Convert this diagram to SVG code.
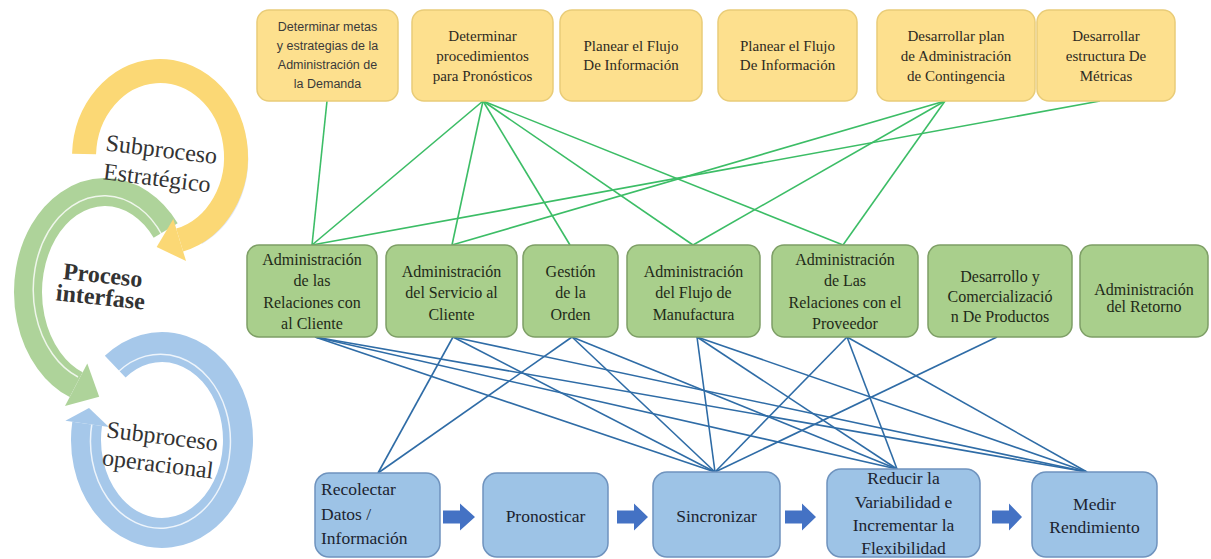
<svg xmlns="http://www.w3.org/2000/svg" width="1211" height="559" viewBox="0 0 1211 559">
  <defs>
    <style>
      .ybox { fill: #FDE08E; stroke: #E9CC78; stroke-width: 1.5; }
      .gbox { fill: #A9CF8C; stroke: #7E9F66; stroke-width: 1.5; }
      .bbox { fill: #9DC3E6; stroke: #6F93BE; stroke-width: 1.5; }
      .ys { font-family: 'Liberation Sans', Arial, sans-serif; font-size: 12.5px; text-anchor: middle; fill: #3a3a3a; }
      .yt { font-family: 'Liberation Serif', 'Times New Roman', serif; font-size: 15px; text-anchor: middle; fill: #2e2a22; }
      .gt { font-family: 'Liberation Serif', 'Times New Roman', serif; font-size: 16px; text-anchor: middle; fill: #1f2a18; }
      .bt { font-family: 'Liberation Serif', 'Times New Roman', serif; font-size: 17.5px; fill: #1c2430; }
      .ring { font-family: 'Liberation Serif', 'Times New Roman', serif; font-size: 24px; fill: #333333; text-anchor: middle; }
      .gl { stroke: #3CBD66; stroke-width: 1.6; fill: none; }
      .bl { stroke: #2F6CA6; stroke-width: 1.6; fill: none; }
      .flow { fill: #4472C4; }
    </style>
  </defs>

  <rect width="1211" height="559" fill="#ffffff"/>

  <!-- cycle graphic on the left -->
  <g id="cycle">
    <!-- operational ring (blue) -->
    <path d="M115.2,366.7 A76,93 0 1 1 87.15,423.85" fill="none" stroke="#A6C8EA" stroke-width="30"/>
    <path d="M118,372 A70,87 0 1 1 92,423" fill="none" stroke="#ffffff" stroke-width="1.5" opacity="0.8"/>
    <polygon points="108.9,427 65.4,420.7 89,408" fill="#A6C8EA"/>
    <!-- interface ring (green) -->
    <path d="M165.68,230.43 A77,100 0 1 0 76.16,384.72" fill="none" stroke="#AED39A" stroke-width="28"/>
    <path d="M162,235 A71,94 0 1 0 78,377" fill="none" stroke="#ffffff" stroke-width="1.5" opacity="0.8"/>
    <polygon points="65,406 87.3,363.5 99.2,396.8" fill="#AED39A"/>
    <!-- strategic ring (yellow) with soft lavender edge -->
    <path d="M120,80 A76,86 0 0 1 190,236" fill="none" stroke="#DFE6F6" stroke-width="16" transform="translate(8,1)"/>
    <path d="M84.05,154 A76,86 0 1 1 179.67,240.07" fill="none" stroke="#FBD875" stroke-width="24"/>
    <polygon points="186.05,261.1 173.3,219 156.7,247" fill="#FBD875"/>

    <text class="ring" transform="rotate(7 158 170)"><tspan x="159" y="157">Subproceso</tspan><tspan x="158" y="186">Estratégico</tspan></text>
    <text class="ring" font-weight="bold" transform="rotate(6 101 293)"><tspan x="101" y="283">Proceso</tspan><tspan x="101" y="305">interfase</tspan></text>
    <text class="ring" transform="rotate(7 160 455)"><tspan x="160" y="444">Subproceso</tspan><tspan x="159" y="472">operacional</tspan></text>
  </g>

  <!-- connectors -->
  <g id="connectors">
    <!-- strategic to interface -->
    <line class="gl" x1="327" y1="101" x2="312" y2="245"/>
    <line class="gl" x1="483" y1="101" x2="312" y2="245"/>
    <line class="gl" x1="483" y1="101" x2="452" y2="245"/>
    <line class="gl" x1="483" y1="101" x2="570" y2="245"/>
    <line class="gl" x1="483" y1="101" x2="693" y2="245"/>
    <line class="gl" x1="483" y1="101" x2="843" y2="245"/>
    <line class="gl" x1="945" y1="101" x2="452" y2="245"/>
    <line class="gl" x1="945" y1="101" x2="693" y2="245"/>
    <line class="gl" x1="945" y1="101" x2="843" y2="245"/>
    <line class="gl" x1="1100" y1="101" x2="312" y2="245"/>
    <!-- interface to operational -->
    <line class="bl" x1="315" y1="337" x2="715" y2="472"/>
    <line class="bl" x1="315" y1="337" x2="897" y2="469"/>
    <line class="bl" x1="315" y1="337" x2="1087" y2="472"/>
    <line class="bl" x1="453" y1="337" x2="378" y2="473"/>
    <line class="bl" x1="453" y1="337" x2="715" y2="472"/>
    <line class="bl" x1="453" y1="337" x2="1087" y2="472"/>
    <line class="bl" x1="572" y1="337" x2="378" y2="473"/>
    <line class="bl" x1="572" y1="337" x2="715" y2="472"/>
    <line class="bl" x1="572" y1="337" x2="897" y2="469"/>
    <line class="bl" x1="697" y1="337" x2="715" y2="472"/>
    <line class="bl" x1="697" y1="337" x2="897" y2="469"/>
    <line class="bl" x1="697" y1="337" x2="1087" y2="472"/>
    <line class="bl" x1="847" y1="337" x2="715" y2="472"/>
    <line class="bl" x1="847" y1="337" x2="897" y2="469"/>
    <line class="bl" x1="847" y1="337" x2="1087" y2="472"/>
    <line class="bl" x1="997" y1="337" x2="715" y2="472"/>
    <!-- process flow arrows -->
    <polygon class="flow" points="443,510.5 460,510.5 460,503.5 475,517 460,530.5 460,523.5 443,523.5"/>
    <polygon class="flow" points="617,510.5 634,510.5 634,503.5 648,517 634,530.5 634,523.5 617,523.5"/>
    <polygon class="flow" points="785,510.5 802,510.5 802,503.5 816,517 802,530.5 802,523.5 785,523.5"/>
    <polygon class="flow" points="992,510.5 1009,510.5 1009,503.5 1022,517 1009,530.5 1009,523.5 992,523.5"/>
  </g>

  <!-- strategic subprocess -->
  <g id="y1"><rect class="ybox" x="257" y="10" width="141" height="91" rx="12"/>
    <text class="ys"><tspan x="327.5" y="31">Determinar metas</tspan><tspan x="327.5" y="50">y estrategias de la</tspan><tspan x="327.5" y="69">Administración de</tspan><tspan x="327.5" y="88">la Demanda</tspan></text></g>
  <g id="y2"><rect class="ybox" x="412" y="10" width="141" height="91" rx="12"/>
    <text class="yt"><tspan x="482.5" y="41">Determinar</tspan><tspan x="482.5" y="61">procedimientos</tspan><tspan x="482.5" y="81">para Pronósticos</tspan></text></g>
  <g id="y3"><rect class="ybox" x="560" y="10" width="142" height="91" rx="12"/>
    <text class="yt"><tspan x="631" y="51">Planear el Flujo</tspan><tspan x="631" y="70">De Información</tspan></text></g>
  <g id="y4"><rect class="ybox" x="718" y="10" width="139" height="91" rx="12"/>
    <text class="yt"><tspan x="787.5" y="51">Planear el Flujo</tspan><tspan x="787.5" y="70">De Información</tspan></text></g>
  <g id="y5"><rect class="ybox" x="877" y="10" width="158" height="91" rx="12"/>
    <text class="yt"><tspan x="956" y="41">Desarrollar plan</tspan><tspan x="956" y="61">de Administración</tspan><tspan x="956" y="81">de Contingencia</tspan></text></g>
  <g id="y6"><rect class="ybox" x="1037" y="10" width="138" height="91" rx="12"/>
    <text class="yt"><tspan x="1106" y="41">Desarrollar</tspan><tspan x="1106" y="61">estructura De</tspan><tspan x="1106" y="81">Métricas</tspan></text></g>

  <!-- interface processes -->
  <g id="g1"><rect class="gbox" x="247" y="245" width="130" height="92" rx="12"/>
    <text class="gt"><tspan x="312" y="265">Administración</tspan><tspan x="312" y="286">de las</tspan><tspan x="312" y="308">Relaciones con</tspan><tspan x="312" y="329">al Cliente</tspan></text></g>
  <g id="g2"><rect class="gbox" x="386" y="245" width="131" height="92" rx="12"/>
    <text class="gt"><tspan x="451.5" y="277">Administración</tspan><tspan x="451.5" y="298">del Servicio al</tspan><tspan x="451.5" y="320">Cliente</tspan></text></g>
  <g id="g3"><rect class="gbox" x="523" y="245" width="95" height="92" rx="12"/>
    <text class="gt"><tspan x="570.5" y="277">Gestión</tspan><tspan x="570.5" y="298">de la</tspan><tspan x="570.5" y="320">Orden</tspan></text></g>
  <g id="g4"><rect class="gbox" x="627" y="245" width="133" height="92" rx="12"/>
    <text class="gt"><tspan x="693.5" y="277">Administración</tspan><tspan x="693.5" y="298">del Flujo de</tspan><tspan x="693.5" y="320">Manufactura</tspan></text></g>
  <g id="g5"><rect class="gbox" x="772" y="245" width="146" height="92" rx="12"/>
    <text class="gt"><tspan x="845" y="265">Administración</tspan><tspan x="845" y="286">de Las</tspan><tspan x="845" y="308">Relaciones con el</tspan><tspan x="845" y="329">Proveedor</tspan></text></g>
  <g id="g6"><rect class="gbox" x="928" y="245" width="144" height="92" rx="12"/>
    <text class="gt"><tspan x="1000" y="282">Desarrollo y</tspan><tspan x="1000" y="302">Comercializació</tspan><tspan x="1000" y="322">n De Productos</tspan></text></g>
  <g id="g7"><rect class="gbox" x="1080" y="245" width="128" height="92" rx="12"/>
    <text class="gt" font-size="14.5"><tspan x="1144" y="295">Administración</tspan><tspan x="1144" y="312">del Retorno</tspan></text></g>

  <!-- operational subprocess -->
  <g id="b1"><rect class="bbox" x="315" y="473" width="125" height="84" rx="14"/>
    <text class="bt"><tspan x="321" y="495">Recolectar</tspan><tspan x="321" y="520">Datos /</tspan><tspan x="321" y="544">Información</tspan></text></g>
  <g id="b2"><rect class="bbox" x="483" y="473" width="125" height="84" rx="14"/>
    <text class="bt" text-anchor="middle" x="545.5" y="522">Pronosticar</text></g>
  <g id="b3"><rect class="bbox" x="653" y="472" width="127" height="85" rx="14"/>
    <text class="bt" text-anchor="middle" x="716.5" y="522">Sincronizar</text></g>
  <g id="b4"><rect class="bbox" x="827" y="469" width="153" height="88" rx="14"/>
    <text class="bt" text-anchor="middle"><tspan x="903.5" y="484">Reducir la</tspan><tspan x="903.5" y="508">Variabilidad e</tspan><tspan x="903.5" y="531">Incrementar la</tspan><tspan x="903.5" y="554">Flexibilidad</tspan></text></g>
  <g id="b5"><rect class="bbox" x="1032" y="472" width="125" height="85" rx="14"/>
    <text class="bt" text-anchor="middle"><tspan x="1094.5" y="510">Medir</tspan><tspan x="1094.5" y="533">Rendimiento</tspan></text></g>
</svg>
